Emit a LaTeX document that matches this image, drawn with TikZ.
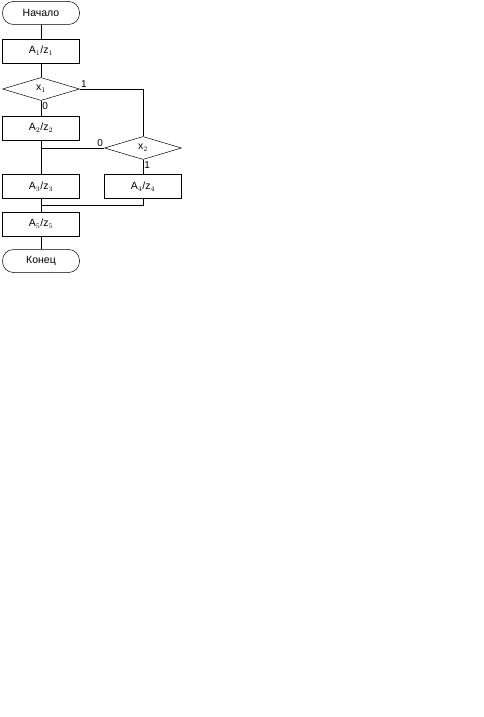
\documentclass[tikz,border=0pt]{standalone}
\usepackage{fontspec}
\setmainfont{Liberation Sans}
\usepackage{tikz}
\usetikzlibrary{positioning, calc, shapes.geometric}

\begin{document}
\begin{tikzpicture}[
    x=1pt, y=-1pt,
    every node/.style={font=\fontsize{10.5}{12}\selectfont},
    line width=0.5pt,
    terminal/.style={
        rectangle,
        draw,
        rounded corners=11pt,
        minimum width=77pt,
        minimum height=23pt
    },
    process/.style={
        rectangle,
        draw,
        minimum width=77pt,
        minimum height=24pt,
        inner sep=1pt
    },
    decision/.style={
        diamond,
        draw,
        aspect=3,
        inner sep=0pt,
        minimum width=77pt,
        minimum height=23pt
    },
    branch/.style={font=\fontsize{10}{11}\selectfont, inner sep=1pt}
]
\useasboundingbox (0,0) rectangle (483,717);

% Blocs
\node[terminal] (debut) at (41,13) {Начало};

\node[process, below=14pt of debut] (a1) {A$_1$/z$_1$};

\node[decision, below=14pt of a1] (x1) {x$_1$};

\node[process, below=15pt of x1] (a2) {A$_2$/z$_2$};

\node[decision] (x2) at (143,148) {x$_2$};

\node[process, below=34pt of a2] (a3) {A$_3$/z$_3$};

\node[process] (a4) at (a3 -| x2) {A$_4$/z$_4$};

\node[process, below=13pt of a3] (a5) {A$_5$/z$_5$};

\node[terminal, below=13pt of a5] (fin) {Конец};

% junctions
\coordinate (j1) at (a2.south |- x2.west);
\coordinate (j2) at ($(a4.south)+(0,6)$);


% Début -> x1
\draw (debut) -- (a1);
\draw (a1) -- (x1);

% x1 : 0 / 1
\draw (x1.south) -- node[branch, right, pos=0.35] {0} (a2.north);
\draw (x1.east) node[branch, above right] {1} -| (x2.north);

% A2 -> A3
\draw (a2) -- (a3);

% x2 : 0 / 1
\draw (x2.west) node[branch, above left] {0} -- (j1);
\draw (x2.south) -- node[branch, right, pos=0.35] {1} (a4.north);

% A4 -> A5
\draw (a4.south) -- (j2) -- (j2 -| a3.south);
\draw (a3) -- (a5);
\draw (a5) -- (fin);

\end{tikzpicture}
\end{document}
